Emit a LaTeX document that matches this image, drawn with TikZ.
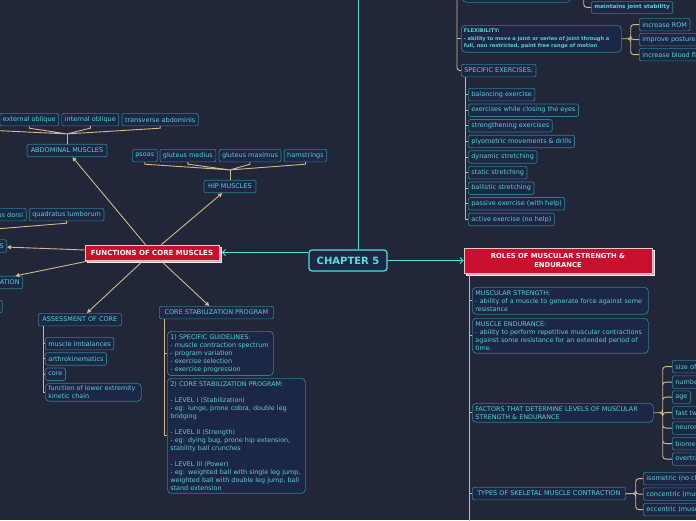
\documentclass[tikz,border=0pt]{standalone}
\usepackage{fontspec}
\setmainfont{DejaVu Sans}
\usepackage{tikz}
\usetikzlibrary{
    arrows.meta,
    positioning,
    shadows
}
\usepackage{xcolor}
\definecolor{bgnavy}{HTML}{222639}
\definecolor{boxfill}{HTML}{1C2646}
\definecolor{boxedge}{HTML}{307F88}
\definecolor{boxtext}{HTML}{5CD0CA}
\definecolor{linktan}{HTML}{CDBB8E}
\definecolor{chapcyan}{HTML}{52E3D2}
\definecolor{rolered}{HTML}{C8102E}
\definecolor{shadowpink}{HTML}{E2A6B2}
\tikzstyle{topic} = [
    rectangle,
    rounded corners=2pt,
    draw=boxedge,
    fill=boxfill,
    text=boxtext,
    line width=0.7pt,
    inner xsep=3pt,
    inner ysep=0pt,
    minimum height=12.5pt,
    font=\fontsize{6.5}{8}\selectfont
]
\tikzstyle{smalltopic} = [
    topic,
    minimum height=12pt,
    font=\bfseries\fontsize{5.6}{7}\selectfont
]
\tikzstyle{note} = [
    topic,
    rounded corners=4pt,
    align=left,
    inner ysep=3pt,
    font=\fontsize{6.4}{8}\selectfont
]
\tikzstyle{smallnote} = [
    note,
    inner ysep=3.5pt,
    inner xsep=2.5pt,
    font=\bfseries\fontsize{5.1}{7.5}\selectfont
]
\tikzstyle{mainbox} = [
    rectangle,
    draw=white!75!rolered,
    fill=rolered,
    text=white,
    align=center,
    line width=0.6pt,
    copy shadow={shadow xshift=2.5pt, shadow yshift=-2.5pt, fill=shadowpink, draw=white!80!shadowpink},
    font=\bfseries\fontsize{7}{8.5}\selectfont
]
\tikzstyle{chapterbox} = [
    rectangle,
    rounded corners=3pt,
    draw=chapcyan,
    line width=1.2pt,
    fill=boxfill,
    text=chapcyan,
    minimum width=78pt,
    minimum height=21pt,
    font=\bfseries\fontsize{10}{12}\selectfont
]
\tikzstyle{mainlink} = [
    draw=chapcyan,
    line width=1pt
]
\tikzstyle{mainarrow} = [
    mainlink,
    -{Straight Barb[length=3pt,width=6pt]}
]
\tikzstyle{branch} = [
    draw=linktan,
    line width=0.9pt
]
\tikzstyle{branchcurve} = [
    branch,
    rounded corners=3pt
]
\tikzstyle{funcarrow} = [
    branch,
    -{Triangle[length=4pt,width=4pt]}
]

\begin{document}
\begin{tikzpicture}[x=1pt, y=-1pt]
    \useasboundingbox (0,0) rectangle (696,520);
    \clip (0,0) rectangle (696,520);
    \fill[bgnavy] (0,0) rectangle (696,520);

    % Centre and main topics
    \node[chapterbox] (chap) at (348,260.5) {CHAPTER 5};
    \node[mainbox, minimum width=134pt, minimum height=15pt] (func) at (152,252.5)
        {FUNCTIONS OF CORE MUSCLES};
    \node[mainbox, minimum width=188pt, minimum height=25pt, font=\bfseries\fontsize{6.8}{8.5}\selectfont] (roles) at (558,260.5)
        {ROLES OF MUSCULAR STRENGTH \&\\ENDURANCE};
    \coordinate (chaptop) at (358,-5);

    % Muscle groups
    \node[topic, minimum width=80pt] (abd) at (67,150.5) {ABDOMINAL MUSCLES};
    \node[topic, anchor=north east] (extobl) at (59,113) {external oblique};
    \node[topic, right=2.5pt of extobl] (intobl) {internal oblique};
    \node[topic, right=2.5pt of intobl] (transab) {transverse abdominis};
    \coordinate (abdfar) at (-15,130);

    \node[topic, minimum width=52pt] (hip) at (230,186.5) {HIP MUSCLES};
    \node[topic, anchor=north west] (psoas) at (132,149) {psoas};
    \node[topic, right=2pt of psoas] (glmed) {gluteus medius};
    \node[topic, right=2.5pt of glmed] (glmax) {gluteus maximus};
    \node[topic, right=2.5pt of glmax] (hams) {hamstrings};

    \node[topic, anchor=east] (lumbar) at (7,246) {BACK MUSCLES};
    \node[topic, anchor=north west] (quadl) at (29,208) {quadratus lumborum};
    \node[topic, left=2.5pt of quadl] (latd) {latissimus dorsi};

    \node[topic, anchor=east] (stabil) at (23,282.5) {SPINAL STABILIZATION};
    \node[topic, anchor=east] (offleft) at (2.5,306.5) {INJURY PREVENTION};

    % Assessment
    \node[topic, anchor=north west, minimum width=83pt] (assess) at (38,313) {ASSESSMENT OF CORE};
    \node[topic, anchor=north west] (imbal) at (45,337) {muscle imbalances};
    \node[topic, below=2.1pt of imbal.south west, anchor=north west] (arthro) {arthrokinematics};
    \node[topic, below=2.1pt of arthro.south west, anchor=north west] (corebox) {core};
    \node[note, text width=90pt, inner ysep=2.5pt, below=2.1pt of corebox.south west, anchor=north west] (kinetic)
        {function of lower extremity\\kinetic chain};

    % Stabilization program
    \node[topic, anchor=north west, minimum width=114pt] (csprog) at (159,306) {CORE STABILIZATION PROGRAM};
    \node[note, anchor=north west, text width=100pt] (guide) at (167,331)
        {1) SPECIFIC GUIDELINES:\\- muscle contraction spectrum\\- program variation\\- exercise selection\\- exercise progression};
    \node[note, anchor=north west, text width=132pt] (levels) at (167,378)
        {2) CORE STABILIZATION PROGRAM:\\[8pt]- LEVEL I (Stabilization)\\- eg: lunge, prone cobra, double leg\\bridging\\[8pt]- LEVEL II (Strength)\\- eg: dying bug, prone hip extension,\\stability ball crunches\\[8pt]- LEVEL III (Power)\\- eg: weighted ball with single leg jump,\\weighted ball with double leg jump, ball\\stand extension};

    % Strength and endurance
    \node[note, anchor=north west, text width=170pt] (mstr) at (472,287)
        {MUSCULAR STRENGTH:\\- ability of a muscle to generate force against some\\resistance};
    \node[note, anchor=north west, text width=170pt] (mend) at (472,318)
        {MUSCLE ENDURANCE:\\- ability to perform repetitive muscular contractions\\against some resistance for an extended period of\\time.};
    \node[note, anchor=north west, text width=175pt] (factors) at (472,403)
        {FACTORS THAT DETERMINE LEVELS OF MUSCULAR\\STRENGTH \& ENDURANCE};
    \node[topic, anchor=north west, minimum width=153pt] (types) at (472,487)
        {TYPES OF SKELETAL MUSCLE CONTRACTION};
    \coordinate (rolesfoot) at (469,530);

    \node[topic, anchor=north west] (fsize) at (672,360) {size of muscle};
    \node[topic, below=2.3pt of fsize.south west, anchor=north west] (fnum) {number of muscle fibers};
    \node[topic, below=1.8pt of fnum.south west, anchor=north west] (fage) {age};
    \node[topic, below=2.3pt of fage.south west, anchor=north west] (ffast) {fast twitch fibers};
    \node[topic, below=2.3pt of ffast.south west, anchor=north west] (fneuro) {neuromuscular efficiency};
    \node[topic, below=2.3pt of fneuro.south west, anchor=north west] (fbio) {biomechanical factors};
    \node[topic, below=2.3pt of fbio.south west, anchor=north west] (fover) {overtraining};

    \node[topic, anchor=north west] (isom) at (643,472) {isometric (no change in muscle length)};
    \node[topic, below=2.3pt of isom.south west, anchor=north west] (conc) {concentric (muscle shortens)};
    \node[topic, below=2.3pt of conc.south west, anchor=north west] (ecc) {eccentric (muscle lengthens)};

    % Flexibility and exercises
    \coordinate (upperspine) at (457,-5);
    \node[note, anchor=north west, minimum width=108pt, minimum height=22pt] (balance) at (462,-20) {BALANCE:};
    \node[smalltopic, anchor=north west, minimum width=77pt] (jointstab) at (591,1) {maintains joint stability};
    \node[smallnote, anchor=north west, text width=155pt] (flex) at (461,25)
        {FLEXIBILITY:\\- ability to move a joint or series of joint through a\\full, non restricted, paint free range of motion};
    \node[topic, anchor=north west] (incrom) at (639,18) {increase ROM};
    \node[topic, below=1.8pt of incrom.south west, anchor=north west] (posture) {improve posture};
    \node[topic, below=1.8pt of posture.south west, anchor=north west] (blood) {increase blood flow};

    \node[topic, anchor=north west] (spex) at (461,64) {SPECIFIC EXERCISES:};
    \node[topic, anchor=north west] (ex1) at (468,88) {balancing exercise};
    \node[topic, below=2.4pt of ex1.south west, anchor=north west] (ex2) {exercises while closing the eyes};
    \node[topic, below=2.4pt of ex2.south west, anchor=north west] (ex3) {strengthening exercises};
    \node[topic, below=2.4pt of ex3.south west, anchor=north west] (ex4) {plyometric movements \& drills};
    \node[topic, below=2.4pt of ex4.south west, anchor=north west] (ex5) {dynamic stretching};
    \node[topic, below=2.4pt of ex5.south west, anchor=north west] (ex6) {static stretching};
    \node[topic, below=2.4pt of ex6.south west, anchor=north west] (ex7) {ballistic stretching};
    \node[topic, below=2.4pt of ex7.south west, anchor=north west] (ex8) {passive exercise (with help)};
    \node[topic, below=2.4pt of ex8.south west, anchor=north west] (ex9) {active exercise (no help)};

    % Arrows from the chapter
    \draw[mainlink] (chap.north -| chaptop) -- (chaptop);
    \draw[mainarrow] (chap.west |- func.east) -- ([xshift=2.5pt]func.east);
    \draw[mainarrow] (chap.east) -- (roles.west);

    % Arrows from the functions
    \draw[funcarrow] (func) -- (abd);
    \draw[funcarrow] (func) -- (hip);
    \draw[funcarrow] (func) -- (lumbar);
    \draw[funcarrow] ([xshift=7pt]func.south west) -- (stabil);
    \draw[funcarrow] (func) -- (assess);
    \draw[funcarrow] (func) -- (csprog);

    % Muscle brackets
    \draw[branch] (abd.north) -- ++(0,-10) coordinate (abdjoin);
    \draw[branch] (extobl.south) -- ++(0,2) -- (abdjoin) (intobl.south) -- ++(0,2) -- (abdjoin)
        (transab.south) -- ++(0,2) -- (abdjoin) (abdjoin) -- (abdfar);
    \draw[branch] (hip.north) -- ++(0,-10) coordinate (hipjoin);
    \draw[branch] (psoas.south) -- ++(0,2) -- (hipjoin) (glmed.south) -- ++(0,2) -- (hipjoin)
        (glmax.south) -- ++(0,2) -- (hipjoin) (hams.south) -- ++(0,2) -- (hipjoin);
    \draw[branch] (lumbar.north) -- ++(0,-9) coordinate (lumjoin);
    \draw[branch] (latd.south) -- ++(0,2) -- (lumjoin) (quadl.south) -- ++(0,2) -- (lumjoin);

    % Lists
    \coordinate (assessroot) at ([xshift=5pt]assess.south west);
    \draw[branch] (assessroot) |- (kinetic.west) (assessroot |- imbal.west) -- (imbal.west)
        (assessroot |- arthro.west) -- (arthro.west) (assessroot |- corebox.west) -- (corebox.west);
    \coordinate (csproot) at ([xshift=5pt]csprog.south west);
    \draw[branch] (csproot) |- (levels.west) (csproot |- guide.west) -- (guide.west);

    \draw[branch] (roles.south -| rolesfoot) -- (rolesfoot) (rolesfoot |- mstr.west) -- (mstr.west)
        (rolesfoot |- mend.west) -- (mend.west) (rolesfoot |- factors.west) -- (factors.west)
        (rolesfoot |- types.west) -- (types.west);
    \draw[branchcurve] (factors.east) -- ++(9,0) |- (fsize.west) (factors.east) -- ++(9,0) |- (fnum.west)
        (factors.east) -- ++(9,0) |- (fage.west) (factors.east) -- ++(9,0) |- (ffast.west)
        (factors.east) -- ++(9,0) |- (fneuro.west) (factors.east) -- ++(9,0) |- (fbio.west)
        (factors.east) -- ++(9,0) |- (fover.west);
    \draw[branchcurve] (types.east) -- ++(10,0) |- (isom.west) (types.east) -- ++(10,0) |- (conc.west)
        (types.east) -- ++(10,0) |- (ecc.west);

    \draw[branchcurve] (upperspine) |- (spex.west);
    \draw[branch] (upperspine |- flex.west) -- (flex.west);
    \draw[branchcurve] (balance.east) -- ++(13,0) |- (jointstab.west);
    \draw[branchcurve] (flex.east) -- ++(9,0) |- (incrom.west) (flex.east) -- ++(9,0) |- (posture.west)
        (flex.east) -- ++(9,0) |- (blood.west);
    \coordinate (spexroot) at ([xshift=4pt]spex.south west);
    \draw[branch] (spexroot) |- (ex9.west) (spexroot |- ex1.west) -- (ex1.west)
        (spexroot |- ex2.west) -- (ex2.west) (spexroot |- ex3.west) -- (ex3.west)
        (spexroot |- ex4.west) -- (ex4.west) (spexroot |- ex5.west) -- (ex5.west)
        (spexroot |- ex6.west) -- (ex6.west) (spexroot |- ex7.west) -- (ex7.west)
        (spexroot |- ex8.west) -- (ex8.west);
\end{tikzpicture}
\end{document}
